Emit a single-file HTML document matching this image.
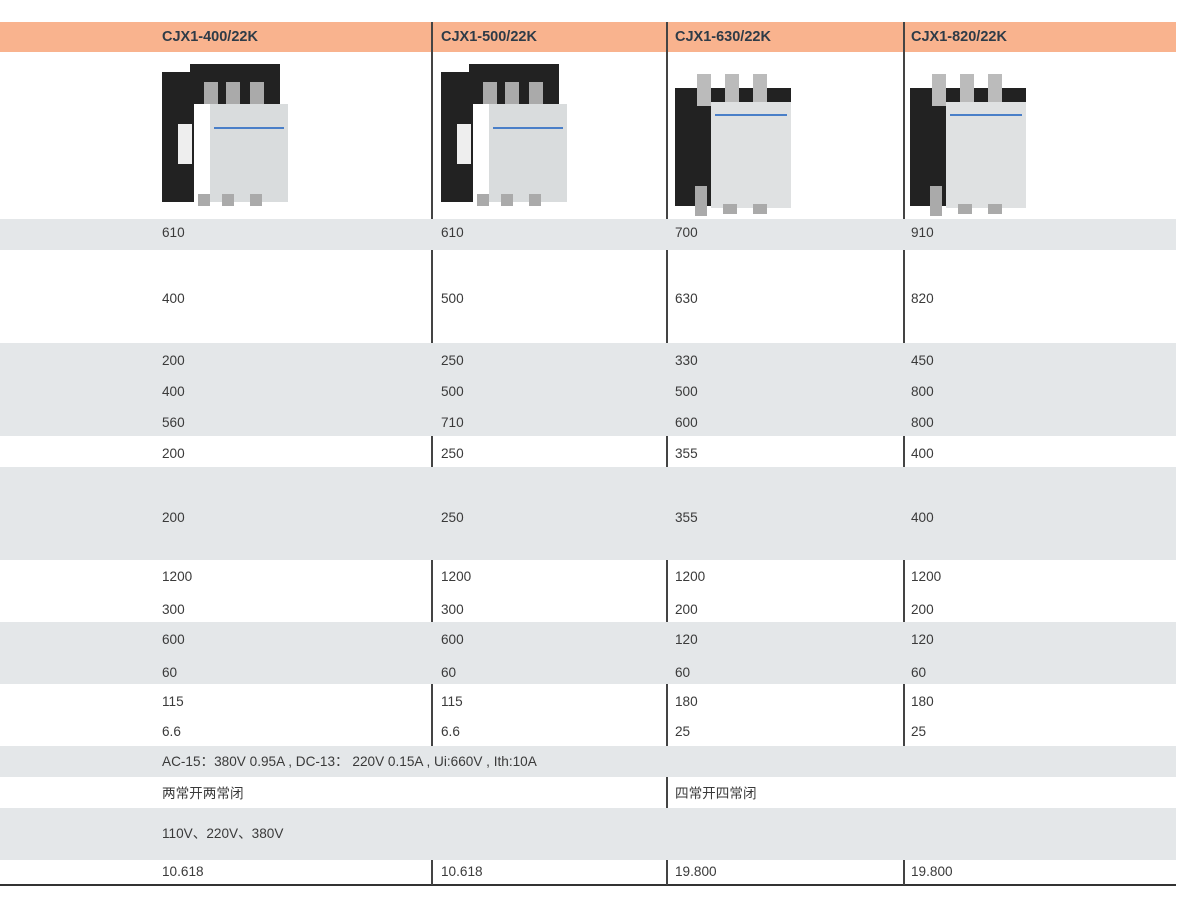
<!DOCTYPE html>
<html><head><meta charset="utf-8"><style>
*{margin:0;padding:0;box-sizing:border-box}
body{width:1200px;height:906px;background:#fff;position:relative;overflow:hidden;font-family:"Liberation Sans","Noto Sans CJK SC",sans-serif;color:#3a3a3a;font-size:13.6px}
.b{position:absolute;left:0;width:1176px}
.g{background:#e4e7e9}
.h{background:#f9b38e}
.v{position:absolute;width:1.5px;background:#444}
.t{position:absolute;white-space:nowrap;line-height:14px}
.hd{position:absolute;top:29px;font-weight:bold;color:#2e3b47;font-size:14.5px}
.img{position:absolute}
.dk{position:absolute;background:#222}
.lt{position:absolute;background:#d9dcdd}
.tm{position:absolute;background:#aaa}
</style></head><body>
<div class="b h" style="top:22px;height:30px"></div>
<div class="b g" style="top:219px;height:31px"></div>
<div class="b g" style="top:343px;height:93px"></div>
<div class="b g" style="top:467px;height:93px"></div>
<div class="b g" style="top:622px;height:62px"></div>
<div class="b g" style="top:746px;height:31px"></div>
<div class="b g" style="top:808px;height:52px"></div>
<div style="position:absolute;left:0;top:884px;width:1176px;height:2px;background:#333"></div>

<div class="v" style="left:431px;top:22px;height:197px"></div>
<div class="v" style="left:666px;top:22px;height:197px"></div>
<div class="v" style="left:903px;top:22px;height:197px"></div>
<div class="v" style="left:431px;top:250px;height:93px"></div>
<div class="v" style="left:666px;top:250px;height:93px"></div>
<div class="v" style="left:903px;top:250px;height:93px"></div>
<div class="v" style="left:431px;top:436px;height:31px"></div>
<div class="v" style="left:666px;top:436px;height:31px"></div>
<div class="v" style="left:903px;top:436px;height:31px"></div>
<div class="v" style="left:431px;top:560px;height:62px"></div>
<div class="v" style="left:666px;top:560px;height:62px"></div>
<div class="v" style="left:903px;top:560px;height:62px"></div>
<div class="v" style="left:431px;top:684px;height:62px"></div>
<div class="v" style="left:666px;top:684px;height:62px"></div>
<div class="v" style="left:903px;top:684px;height:62px"></div>
<div class="v" style="left:666px;top:777px;height:31px"></div>
<div class="v" style="left:431px;top:860px;height:25px"></div>
<div class="v" style="left:666px;top:860px;height:25px"></div>
<div class="v" style="left:903px;top:860px;height:25px"></div>

<div class="hd" style="left:162px">CJX1-400/22K</div>
<div class="hd" style="left:441px">CJX1-500/22K</div>
<div class="hd" style="left:675px">CJX1-630/22K</div>
<div class="hd" style="left:911px">CJX1-820/22K</div>

<div class="img" style="left:162px;top:64px">
<div class="dk" style="left:0;top:8px;width:32px;height:130px"></div>
<div class="dk" style="left:28px;top:0;width:90px;height:40px"></div>
<div class="tm" style="left:42px;top:18px;width:14px;height:22px"></div>
<div class="tm" style="left:64px;top:18px;width:14px;height:22px"></div>
<div class="tm" style="left:88px;top:18px;width:14px;height:22px"></div>
<div class="lt" style="left:48px;top:40px;width:78px;height:98px"></div>
<div style="position:absolute;left:52px;top:63px;width:70px;height:2px;background:#4a7fc8"></div>
<div class="lt" style="left:16px;top:60px;width:14px;height:40px;background:#eee"></div>
<div class="tm" style="left:36px;top:130px;width:12px;height:12px"></div>
<div class="tm" style="left:60px;top:130px;width:12px;height:12px"></div>
<div class="tm" style="left:88px;top:130px;width:12px;height:12px"></div>
</div>
<div class="img" style="left:441px;top:64px">
<div class="dk" style="left:0;top:8px;width:32px;height:130px"></div>
<div class="dk" style="left:28px;top:0;width:90px;height:40px"></div>
<div class="tm" style="left:42px;top:18px;width:14px;height:22px"></div>
<div class="tm" style="left:64px;top:18px;width:14px;height:22px"></div>
<div class="tm" style="left:88px;top:18px;width:14px;height:22px"></div>
<div class="lt" style="left:48px;top:40px;width:78px;height:98px"></div>
<div style="position:absolute;left:52px;top:63px;width:70px;height:2px;background:#4a7fc8"></div>
<div class="lt" style="left:16px;top:60px;width:14px;height:40px;background:#eee"></div>
<div class="tm" style="left:36px;top:130px;width:12px;height:12px"></div>
<div class="tm" style="left:60px;top:130px;width:12px;height:12px"></div>
<div class="tm" style="left:88px;top:130px;width:12px;height:12px"></div>
</div>
<div class="img" style="left:675px;top:74px">
<div class="dk" style="left:0;top:14px;width:40px;height:118px"></div>
<div class="dk" style="left:36px;top:14px;width:80px;height:24px"></div>
<div class="tm" style="left:22px;top:0;width:14px;height:32px;background:#bbb"></div>
<div class="tm" style="left:50px;top:0;width:14px;height:32px;background:#bbb"></div>
<div class="tm" style="left:78px;top:0;width:14px;height:32px;background:#bbb"></div>
<div class="lt" style="left:36px;top:28px;width:80px;height:106px;background:#dfe1e2"></div>
<div style="position:absolute;left:40px;top:40px;width:72px;height:2px;background:#4a7fc8"></div>
<div class="tm" style="left:20px;top:112px;width:12px;height:30px"></div>
<div class="tm" style="left:48px;top:130px;width:14px;height:10px"></div>
<div class="tm" style="left:78px;top:130px;width:14px;height:10px"></div>
</div>
<div class="img" style="left:910px;top:74px">
<div class="dk" style="left:0;top:14px;width:40px;height:118px"></div>
<div class="dk" style="left:36px;top:14px;width:80px;height:24px"></div>
<div class="tm" style="left:22px;top:0;width:14px;height:32px;background:#bbb"></div>
<div class="tm" style="left:50px;top:0;width:14px;height:32px;background:#bbb"></div>
<div class="tm" style="left:78px;top:0;width:14px;height:32px;background:#bbb"></div>
<div class="lt" style="left:36px;top:28px;width:80px;height:106px;background:#dfe1e2"></div>
<div style="position:absolute;left:40px;top:40px;width:72px;height:2px;background:#4a7fc8"></div>
<div class="tm" style="left:20px;top:112px;width:12px;height:30px"></div>
<div class="tm" style="left:48px;top:130px;width:14px;height:10px"></div>
<div class="tm" style="left:78px;top:130px;width:14px;height:10px"></div>
</div>

<div class="t" style="left:162px;top:226px">610</div><div class="t" style="left:441px;top:226px">610</div><div class="t" style="left:675px;top:226px">700</div><div class="t" style="left:911px;top:226px">910</div>
<div class="t" style="left:162px;top:292px">400</div><div class="t" style="left:441px;top:292px">500</div><div class="t" style="left:675px;top:292px">630</div><div class="t" style="left:911px;top:292px">820</div>
<div class="t" style="left:162px;top:354px">200</div><div class="t" style="left:441px;top:354px">250</div><div class="t" style="left:675px;top:354px">330</div><div class="t" style="left:911px;top:354px">450</div>
<div class="t" style="left:162px;top:385px">400</div><div class="t" style="left:441px;top:385px">500</div><div class="t" style="left:675px;top:385px">500</div><div class="t" style="left:911px;top:385px">800</div>
<div class="t" style="left:162px;top:416px">560</div><div class="t" style="left:441px;top:416px">710</div><div class="t" style="left:675px;top:416px">600</div><div class="t" style="left:911px;top:416px">800</div>
<div class="t" style="left:162px;top:447px">200</div><div class="t" style="left:441px;top:447px">250</div><div class="t" style="left:675px;top:447px">355</div><div class="t" style="left:911px;top:447px">400</div>
<div class="t" style="left:162px;top:511px">200</div><div class="t" style="left:441px;top:511px">250</div><div class="t" style="left:675px;top:511px">355</div><div class="t" style="left:911px;top:511px">400</div>
<div class="t" style="left:162px;top:570px">1200</div><div class="t" style="left:441px;top:570px">1200</div><div class="t" style="left:675px;top:570px">1200</div><div class="t" style="left:911px;top:570px">1200</div>
<div class="t" style="left:162px;top:603px">300</div><div class="t" style="left:441px;top:603px">300</div><div class="t" style="left:675px;top:603px">200</div><div class="t" style="left:911px;top:603px">200</div>
<div class="t" style="left:162px;top:633px">600</div><div class="t" style="left:441px;top:633px">600</div><div class="t" style="left:675px;top:633px">120</div><div class="t" style="left:911px;top:633px">120</div>
<div class="t" style="left:162px;top:666px">60</div><div class="t" style="left:441px;top:666px">60</div><div class="t" style="left:675px;top:666px">60</div><div class="t" style="left:911px;top:666px">60</div>
<div class="t" style="left:162px;top:695px">115</div><div class="t" style="left:441px;top:695px">115</div><div class="t" style="left:675px;top:695px">180</div><div class="t" style="left:911px;top:695px">180</div>
<div class="t" style="left:162px;top:725px">6.6</div><div class="t" style="left:441px;top:725px">6.6</div><div class="t" style="left:675px;top:725px">25</div><div class="t" style="left:911px;top:725px">25</div>
<div class="t" style="left:162px;top:755px">AC-15：380V 0.95A , DC-13： 220V 0.15A , Ui:660V , Ith:10A</div>
<div class="t" style="left:162px;top:787px">两常开两常闭</div><div class="t" style="left:675px;top:787px">四常开四常闭</div>
<div class="t" style="left:162px;top:827px">110V、220V、380V</div>
<div class="t" style="left:162px;top:865px">10.618</div><div class="t" style="left:441px;top:865px">10.618</div><div class="t" style="left:675px;top:865px">19.800</div><div class="t" style="left:911px;top:865px">19.800</div>
</body></html>
